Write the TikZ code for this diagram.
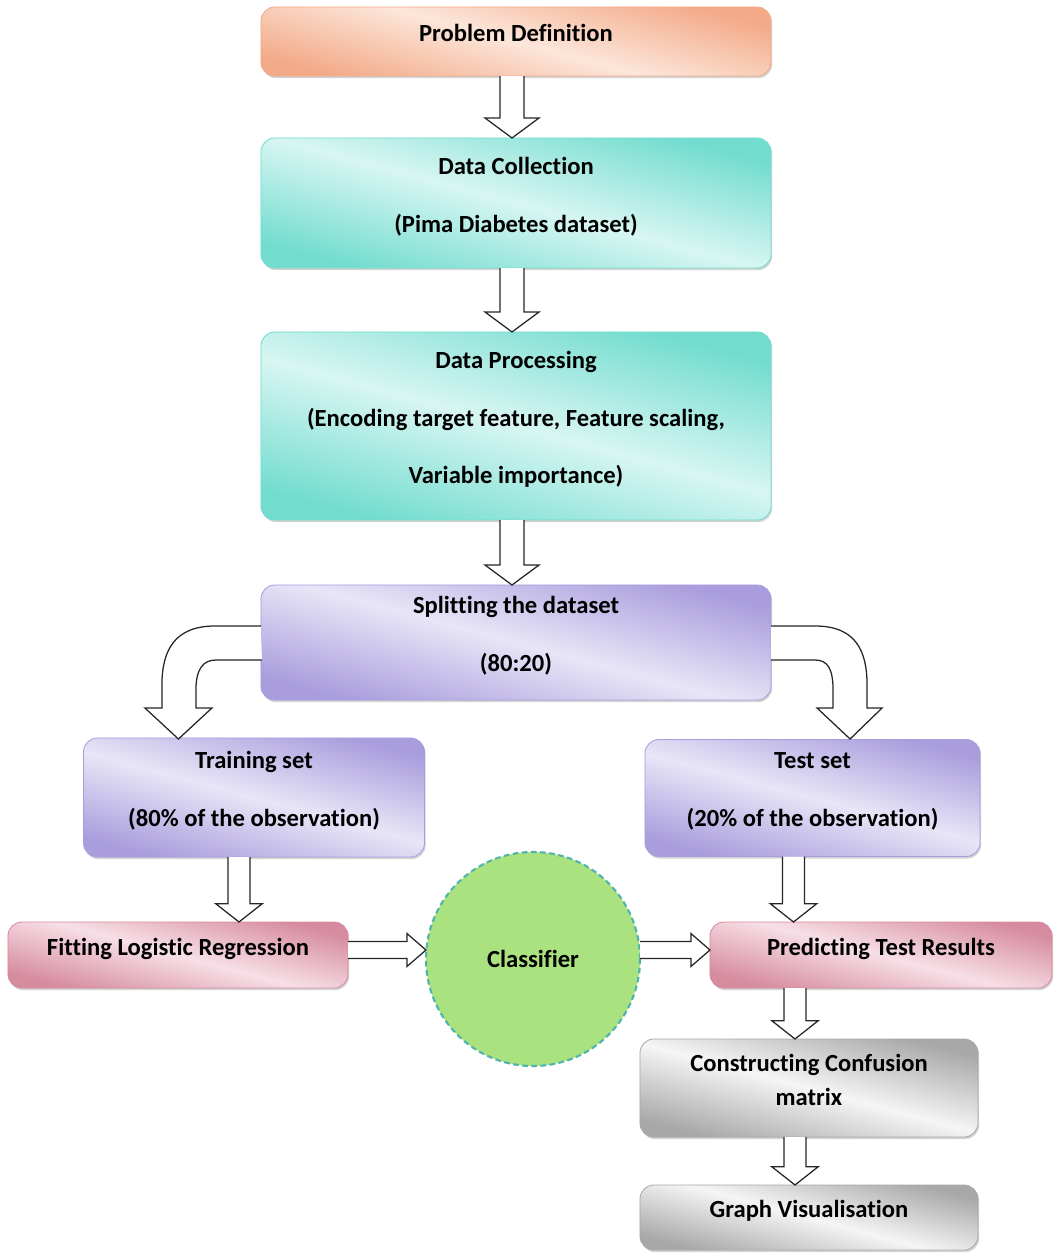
\documentclass[tikz,border=0pt]{standalone}
\usepackage{fontspec}
\setmainfont[Ligatures=NoCommon]{Carlito}
\usepackage{tikz}
\usetikzlibrary{calc}
\usetikzlibrary{shadows}
\usetikzlibrary{positioning}

\definecolor{peachD}{HTML}{F3AA88}
\definecolor{peachL}{HTML}{FCE6DA}
\definecolor{aquaD}{HTML}{72DCCF}
\definecolor{aquaL}{HTML}{D8F6F2}
\definecolor{lilacD}{HTML}{A99DDD}
\definecolor{lilacL}{HTML}{E9E5F7}
\definecolor{roseD}{HTML}{D68B9F}
\definecolor{roseL}{HTML}{F7DFE6}
\definecolor{stoneD}{HTML}{A8A8A8}
\definecolor{stoneL}{HTML}{F5F5F5}
\definecolor{leaf}{HTML}{A9E27E}
\definecolor{leafrim}{HTML}{4FB3B0}

\newcommand{\stagefont}{\bfseries\fontsize{17.5}{41}\selectfont}

% hollow block arrows: start, end, shaft half width, head half width, head length
\newcommand{\fatdown}[5]{%
	\draw[hollow] let \p1=#1, \p2=#2 in
		(\x1-#3,\y1) -- (\x1-#3,\y2+#5) -- (\x1-#4,\y2+#5) -- (\x1,\y2)
		-- (\x1+#4,\y2+#5) -- (\x1+#3,\y2+#5) -- (\x1+#3,\y1);}
\newcommand{\fatright}[5]{%
	\draw[hollow] let \p1=#1, \p2=#2 in
		(\x1,\y1+#3) -- (\x2-#5,\y1+#3) -- (\x2-#5,\y1+#4) -- (\x2,\y1)
		-- (\x2-#5,\y1-#4) -- (\x2-#5,\y1-#3) -- (\x1,\y1-#3);}

\tikzset{
	stage/.style={draw=#1D, line width=0.6pt, rounded corners=0.35cm,
		top color=#1D, bottom color=#1D, middle color=#1L, shading angle=-15,
		drop shadow={shadow xshift=0.8pt, shadow yshift=-1.5pt, opacity=0.35},
		inner sep=0pt, outer sep=0pt, align=center, font=\stagefont, text depth=12pt},
	hollow/.style={draw=black!85, fill=white, line width=0.9pt, line join=miter},
}

\begin{document}
\begin{tikzpicture}[x=0.025cm, y=-0.025cm]
	\useasboundingbox (0,0) rectangle (1060,1257);

	\node[stage=peach, minimum width=12.75cm, minimum height=1.725cm] (prob) at (516,41.5) {Problem Definition};
	\node[stage=aqua, minimum width=12.75cm, minimum height=3.25cm] (coll) at (516,203)
		{Data Collection\\(Pima Diabetes dataset)};
	\node[stage=aqua, minimum width=12.75cm, minimum height=4.7cm] (proc) at (516,426)
		{Data Processing\\(Encoding target feature, Feature scaling,\\Variable importance)};
	\node[stage=lilac, minimum width=12.75cm, minimum height=2.875cm] (split) at (516,642.5)
		{Splitting the dataset\\(80:20)};
	\node[stage=lilac, minimum width=8.525cm, minimum height=2.975cm] (train) at (254,797.5)
		{Training set\\(80\% of the observation)};
	\node[stage=lilac, minimum width=8.375cm, minimum height=2.925cm] (test) at (812.5,798)
		{Test set\\(20\% of the observation)};
	\node[stage=rose, minimum width=8.5cm, minimum height=1.65cm] (fit) at (178,955) {Fitting Logistic Regression};
	\node[circle, fill=leaf, draw=leafrim, dash pattern=on 4pt off 2.5pt, line width=1.5pt, minimum size=5.35cm,
		inner sep=0pt, outer sep=0pt, font=\bfseries\fontsize{17.5}{21}\selectfont] (clf) at (533,959) {Classifier};
	\node[stage=rose, minimum width=8.55cm, minimum height=1.65cm] (pred) at (881,955) {Predicting Test Results};
	\node[stage=stone, minimum width=8.45cm, minimum height=2.45cm, font=\bfseries\fontsize{17.5}{24}\selectfont]
		(conf) at (809,1088) {Constructing Confusion\\matrix};
	\node[stage=stone, minimum width=8.45cm, minimum height=1.625cm] (graph) at (809,1217.5) {Graph Visualisation};

	% straight arrows
	\fatdown{($(prob.south)+(-4,0)$)}{(coll.north)}{8.5pt}{19.2pt}{14.2pt}
	\fatdown{($(coll.south)+(-4,0)$)}{(proc.north)}{8.5pt}{19.2pt}{14.2pt}
	\fatdown{($(proc.south)+(-4,0)$)}{(split.north)}{8.5pt}{19.2pt}{14.2pt}
	\fatdown{($(train.south)+(-15,0)$)}{(fit.north)}{7.8pt}{16.5pt}{13pt}
	\fatdown{($(test.south)+(-19,0)$)}{(pred.north)}{7.8pt}{16.5pt}{13pt}
	\fatdown{($(conf.north |- pred.south)+(-14,0)$)}{(conf.north)}{7.8pt}{16.5pt}{13pt}
	\fatdown{($(conf.south)+(-14,0)$)}{(graph.north)}{7.8pt}{16.5pt}{13pt}
	\fatright{($(fit.east)+(0,-5)$)}{(clf.west)}{6pt}{11.7pt}{13.5pt}
	\fatright{($(clf.east |- fit.east)+(0,-5)$)}{(pred.west)}{6pt}{11.7pt}{13.5pt}

	% bent arrows out of the split
	\draw[hollow] ($(split.west)+(0,-16.5)$) -- ++(-46,0)
		.. controls +(-40,0) and +(0,-35) .. ++(-53,59) -- ++(0,23) -- ++(-17,0)
		-- ++(33.5,31) -- ++(33.5,-31) -- ++(-16,0) -- ++(0,-18)
		.. controls +(0,-22) and +(-12,0) .. ++(20,-30) -- ++(46,0);
	\draw[hollow] ($(split.east)+(0,-16.5)$) -- ++(44,0)
		.. controls +(40,0) and +(0,-35) .. ++(52,59) -- ++(0,23) -- ++(15,0)
		-- ++(-32,31) -- ++(-33,-31) -- ++(16,0) -- ++(0,-18)
		.. controls +(0,-22) and +(12,0) .. ++(-18,-30) -- ++(-44,0);
\end{tikzpicture}
\end{document}
